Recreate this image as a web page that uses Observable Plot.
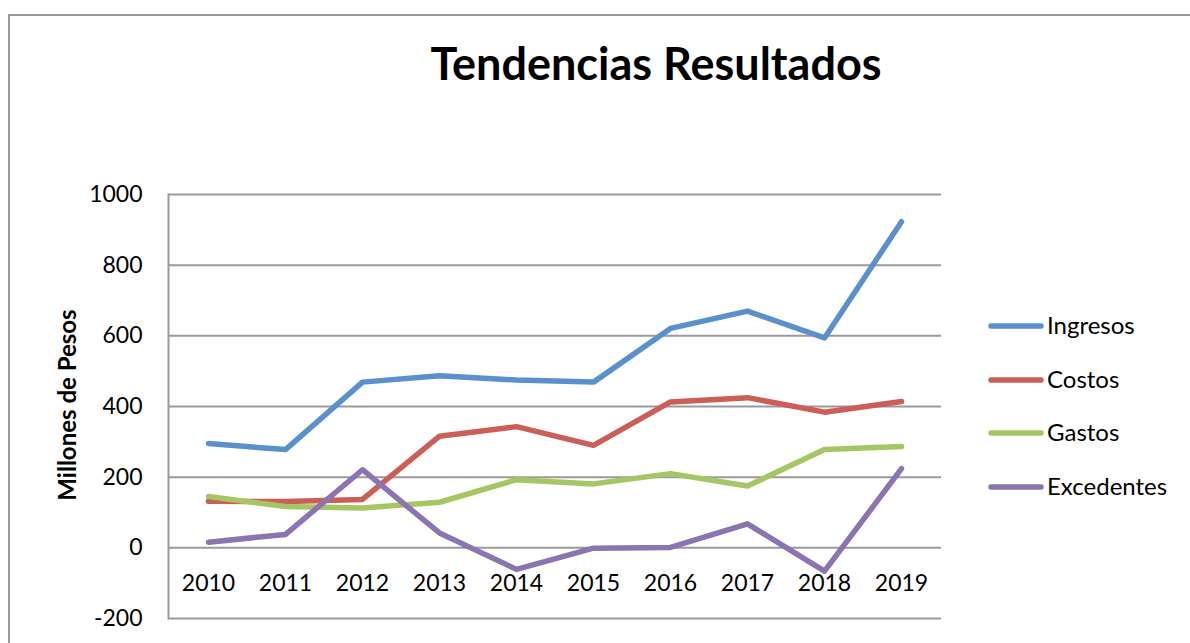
<!DOCTYPE html>
<html>
<head>
<meta charset="utf-8">
<script src="https://cdn.jsdelivr.net/npm/d3@7"></script>
<script src="https://cdn.jsdelivr.net/npm/@observablehq/plot@0.6"></script>
<style>
  html, body { margin: 0; padding: 0; background: #fff; }
  #wrap { position: relative; width: 1190px; height: 643px; overflow: hidden; font-family: Lato, "Open Sans", sans-serif; }
  #border { position: absolute; left: 8px; top: 14px; width: 1200px; height: 700px; border: 2px solid #9a9a9a; box-sizing: border-box; }
  #title { position: absolute; left: 0; width: 1312px; top: 36px; text-align: center; font-weight: bold; font-size: 45px; color: #000; }
  #ylab { position: absolute; left: 66px; top: 405px; transform: translate(-50%, -50%) rotate(-90deg); font-weight: bold; font-size: 24px; white-space: nowrap; color: #000; }
  #legend { position: absolute; left: 988px; top: 310px; }
  .li { height: 53.5px; display: flex; align-items: flex-start; }
  .li svg { margin-top: 12px; }
  .li span { font-size: 24px; line-height: 30px; color: #000; margin-left: 3px; }
  #chart { position: absolute; left: 0; top: 0; }
</style>
</head>
<body>
<div id="wrap">
  <div id="border"></div>
  <div id="chart"></div>
  <div id="title">Tendencias Resultados</div>
  <div id="ylab">Millones de Pesos</div>
  <div id="legend"></div>
</div>
<script>
const years = ["2010","2011","2012","2013","2014","2015","2016","2017","2018","2019"];
const seriesNames = ["Ingresos","Costos","Gastos","Excedentes"];
const seriesColors = ["#5A90CB","#CC5E58","#A6C563","#8C73B1"];
const ingresos   = [295, 278, 469, 487, 475, 469, 621, 670, 594, 923];
const costos     = [132, 131, 137, 316, 343, 290, 413, 425, 384, 414];
const gastos     = [145, 117, 113, 129, 193, 181, 210, 175, 278, 287];
const excedentes = [16, 38, 221, 42, -61, -1, 1, 68, -66, 224];
const yTicks = [-200, 0, 200, 400, 600, 800, 1000];

const seriesValues = [ingresos, costos, gastos, excedentes];
const rows = [];
seriesNames.forEach((name, s) => {
  years.forEach((yr, i) => rows.push({year: yr, value: seriesValues[s][i], series: name}));
});

const chart = Plot.plot({
  width: 1190,
  height: 643,
  marginLeft: 168,
  marginRight: 249,
  marginTop: 194,
  marginBottom: 25,
  style: {fontFamily: "Lato, 'Open Sans', sans-serif", fontSize: "23px", color: "#000", background: "transparent"},
  x: {type: "point", domain: years, padding: 0.5, axis: null},
  y: {domain: [-200, 1000], ticks: yTicks},
  color: {domain: seriesNames, range: seriesColors},
  marks: [
    Plot.gridY(yTicks, {stroke: "#9a9a9a", strokeOpacity: 1, strokeWidth: 2}),
    Plot.frame({anchor: "left", stroke: "#9a9a9a", strokeWidth: 2}),
    Plot.axisY(yTicks, {tickSize: 0, tickPadding: 26, label: null, fontSize: 23, fill: "#000", tickFormat: d => String(d)}),
    Plot.text(years, {x: d => d, y: () => 0, dy: 36, text: d => d, fontSize: 23, fill: "#000", lineAnchor: "middle"}),
    Plot.line(rows, {x: "year", y: "value", z: "series", stroke: "series", strokeWidth: 5.5, strokeLinecap: "round", strokeLinejoin: "round"})
  ]
});
document.getElementById("chart").appendChild(chart);

const legend = document.getElementById("legend");
seriesNames.forEach((name, i) => {
  const div = document.createElement("div");
  div.className = "li";
  div.innerHTML = `<svg width="56" height="8"><line x1="3" y1="4" x2="53" y2="4" stroke="${seriesColors[i]}" stroke-width="5.5" stroke-linecap="round"/></svg><span>${name}</span>`;
  legend.appendChild(div);
});
</script>
</body>
</html>
